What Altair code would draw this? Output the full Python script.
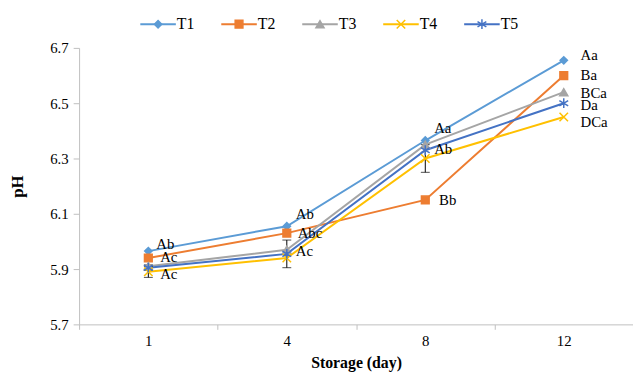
import altair as alt
import pandas as pd

days = ["1", "4", "8", "12"]
series = ["T1", "T2", "T3", "T4", "T5"]
colors = ["#5B9BD5", "#ED7D31", "#A5A5A5", "#FFC000", "#4472C4"]
shapes = ["diamond", "square", "triangle-up",
          "M-1,-1L1,1M-1,1L1,-1",
          "M0,-1.1L0,1.1M-1,-0.6L1,0.6M-1,0.6L1,-0.6"]
sizes = [55, 80, 55, 45, 55]

T1 = [5.965, 6.055, 6.365, 6.655]
T2 = [5.94, 6.03, 6.15, 6.60]
T3 = [5.91, 5.97, 6.35, 6.54]
T4 = [5.89, 5.94, 6.30, 6.45]
T5 = [5.905, 5.955, 6.33, 6.50]

E1 = [0.0, 0.0, 0.0, 0.0]
E2 = [0.0, 0.0, 0.0, 0.0]
E3 = [0.0, 0.0, 0.0, 0.0]
E4 = [0.02, 0.0, 0.05, 0.0]
E5 = [0.01, 0.05, 0.0, 0.0]

lab_series = ["T1", "T2", "T4", "T1", "T2", "T5", "T1", "T5", "T2",
              "T1", "T2", "T3", "T5", "T4"]
lab_days = ["1", "1", "1", "4", "4", "4", "8", "8", "8",
            "12", "12", "12", "12", "12"]
lab_text = ["Ab", "Ac", "Ac", "Ab", "Abc", "Ac", "Aa", "Ab", "Bb",
            "Aa", "Ba", "BCa", "Da", "DCa"]
lab_dx = [8, 12, 12, 9, 11, 9, 9, 9, 14, 17, 17, 17, 17, 17]
lab_dy = [-7, -1, 2, -12, 0, -3, -13, -1, 0, -5, 0, 1, 2, 5]

W, H = 561, 280
YMIN, YMAX = 5.7, 6.7
half_band = W / len(days) / 2
px = (YMAX - YMIN) / H

vals = {"T1": T1, "T2": T2, "T3": T3, "T4": T4, "T5": T5}
errs = {"T1": E1, "T2": E2, "T3": E3, "T4": E4, "T5": E5}

rows = []
for s in series:
    for i, d in enumerate(days):
        rows.append({"s": s, "Day": d, "pH": vals[s][i], "e": errs[s][i],
                     "lo": vals[s][i] - errs[s][i], "hi": vals[s][i] + errs[s][i]})
df = pd.DataFrame(rows)
dfe = df[df["e"] > 0]

lab = pd.DataFrame({"s": lab_series, "Day": lab_days, "t": lab_text,
                    "dx": [v + half_band for v in lab_dx]})
lab["pH"] = [vals[s][days.index(d)] - dy * px
             for s, d, dy in zip(lab_series, lab_days, lab_dy)]

leg = pd.DataFrame({"s": series})

FONT = "Liberation Serif"
AX = "#BFBFBF"

xenc = alt.X("Day:N", sort=days,
             scale=alt.Scale(type="band", paddingInner=0, paddingOuter=0),
             axis=alt.Axis(title="Storage (day)", labelAngle=0, tickBand="extent",
                           domainColor=AX, tickColor=AX, tickSize=5,
                           labelFontSize=15, titleFontSize=16, titleFontWeight="bold",
                           labelPadding=4, titlePadding=7, labelColor="black",
                           titleColor="black", labelFont=FONT, titleFont=FONT))
yenc = alt.Y("pH:Q", scale=alt.Scale(domain=[YMIN, YMAX], nice=False, zero=False),
             axis=alt.Axis(title="pH", values=[5.7, 5.9, 6.1, 6.3, 6.5, 6.7],
                           format=".1f", grid=False, tickSize=6, domainColor=AX,
                           tickColor=AX, labelFontSize=15, titleFontSize=17,
                           titleFontWeight="bold", labelPadding=5, titlePadding=24,
                           labelColor="black", titleColor="black",
                           labelFont=FONT, titleFont=FONT))

cscale = alt.Scale(domain=series, range=colors)
sscale = alt.Scale(domain=series, range=shapes)
zscale = alt.Scale(domain=series, range=sizes)

base = alt.Chart(df)
xc = alt.X("Day:N", sort=days, bandPosition=0.5)

lines = base.mark_line(strokeWidth=2).encode(
    x=xenc, y=yenc, color=alt.Color("s:N", scale=cscale, legend=None),
    order=alt.Order("s:N"))

ebase = alt.Chart(dfe)
ebar = ebase.mark_rule(color="black", strokeWidth=1).encode(
    x=xc, y="lo:Q", y2="hi:Q")
ecap_lo = ebase.mark_tick(color="black", thickness=1, size=9).encode(
    x=xc, y=alt.Y("lo:Q"))
ecap_hi = ebase.mark_tick(color="black", thickness=1, size=9).encode(
    x=xc, y=alt.Y("hi:Q"))

pts = base.mark_point(filled=False, strokeWidth=1.5, opacity=1, fillOpacity=1).encode(
    x=xc, y="pH:Q",
    color=alt.Color("s:N", scale=cscale, legend=None),
    fill=alt.Fill("s:N", scale=cscale, legend=None),
    shape=alt.Shape("s:N", scale=sscale, legend=None),
    size=alt.Size("s:N", scale=zscale, legend=None))

labels = alt.Chart(lab).mark_text(align="left", baseline="middle", fontSize=15,
                                  font=FONT, color="black").encode(
    x=alt.X("Day:N", sort=days), y="pH:Q", text="t:N",
    xOffset=alt.XOffset("dx:Q", scale=None))

lx = alt.X("s:N", sort=series, scale=alt.Scale(type="point", range=[80, 408], padding=0),
           axis=None)
lbase = alt.Chart(leg)
leg_rule = lbase.mark_rule(strokeWidth=2, xOffset=-18, x2Offset=18).encode(
    x=lx, x2=alt.X2("s:N"), y=alt.value(-24),
    color=alt.Color("s:N", scale=cscale, legend=None))
leg_pts = lbase.mark_point(filled=False, strokeWidth=1.5, opacity=1, fillOpacity=1).encode(
    x=lx, y=alt.value(-24),
    color=alt.Color("s:N", scale=cscale, legend=None),
    fill=alt.Fill("s:N", scale=cscale, legend=None),
    shape=alt.Shape("s:N", scale=sscale, legend=None),
    size=alt.Size("s:N", scale=zscale, legend=None))
leg_txt = lbase.mark_text(align="left", baseline="middle", dx=19, fontSize=16,
                          font=FONT, color="black").encode(
    x=lx, y=alt.value(-24), text="s:N")

main = alt.layer(lines, ebar, ecap_lo, ecap_hi, pts, labels)
legend = alt.layer(leg_rule, leg_pts, leg_txt)

chart = alt.layer(main, legend).resolve_scale(x="independent").properties(
    width=W, height=H,
    padding={"left": 72, "top": 38, "right": 0, "bottom": 60},
    autosize=alt.AutoSizeParams(type="none"),
).configure(font=FONT).configure_view(stroke=None).configure_axis(
    labelFont=FONT, titleFont=FONT).configure_text(font=FONT)

chart.save("out.html", embed_options={"renderer": "svg", "actions": False})
